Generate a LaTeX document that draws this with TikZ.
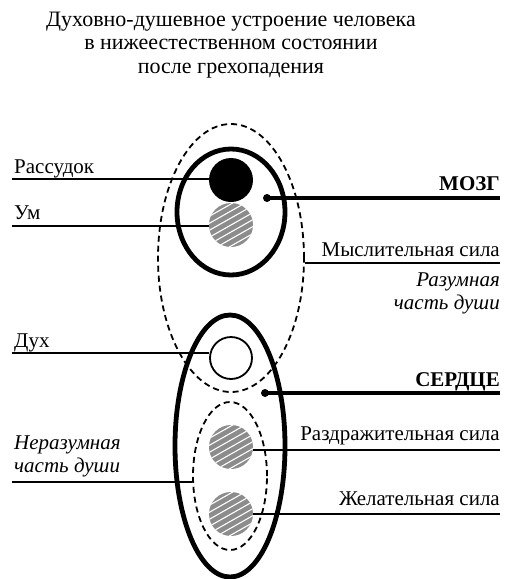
\documentclass[tikz,border=0pt]{standalone}
\usepackage{fontspec}
\setmainfont{Liberation Serif}
\usetikzlibrary{shapes.geometric,calc}
\definecolor{hatchgray}{RGB}{140,140,140}
\tikzset{
  lbl/.style={inner sep=0pt, font=\fontsize{21}{25}\selectfont},
  ttl/.style={inner sep=0pt, font=\fontsize{22}{26}\selectfont},
  leader/.style={line width=1.4pt},
  mainline/.style={line width=3.2pt},
  thickell/.style={ellipse, draw, line width=4.8pt, inner sep=0pt},
  dashell/.style={ellipse, draw, line width=1.8pt, dash pattern=on 6pt off 4pt, inner sep=0pt},
  blob/.style={circle, inner sep=0pt, minimum size=44pt},
  hatched/.style={blob, fill=hatchgray, path picture={
      \foreach \i in {-49,-42,...,49}
        \draw[white, line width=1.1pt]
          ([shift={(-30pt,\i pt-17pt)}]path picture bounding box.center) --
          ([shift={(30pt,\i pt+17pt)}]path picture bounding box.center);
    }},
  dotnode/.style={circle, fill, inner sep=0pt, minimum size=8pt}
}
\begin{document}
\begin{tikzpicture}[x=1pt,y=-1pt]
\useasboundingbox (0,0) rectangle (514,579);
% title
\node[ttl, anchor=base] (t1) at (231,26) {Духовно-душевное устроение человека};
\node[ttl, anchor=base] (t2) at (231,49) {в нижеестественном состоянии};
\node[ttl, anchor=base] (t3) at (231,73) {после грехопадения};
% ellipses
\node[dashell, minimum width=146pt, minimum height=268pt] (updash) at (231,258) {};
\node[thickell, minimum width=108pt, minimum height=126pt] (brain) at (231,212) {};
\node[thickell, minimum width=110pt, minimum height=262pt] (heart) at (230,446) {};
\node[dashell, minimum width=74pt, minimum height=148pt] (indash) at (230,476) {};
% circles
\node[blob, fill=black] (rass) at (231,180) {};
\node[hatched] (um) at (231,225) {};
\node[blob, draw, line width=1.8pt, minimum size=42pt, fill=white] (duh) at (231,358) {};
\node[hatched] (razd) at (231,447) {};
\node[hatched] (zhel) at (231,514) {};
% dots
\node[dotnode] (bdot) at (267,198) {};
\node[dotnode] (hdot) at (265,393) {};
% end coordinates
\coordinate (rassL) at (12,179);
\coordinate (umL) at (12,226);
\coordinate (duhL) at (12,353);
\coordinate (nerL) at (12,482);
\coordinate (bR) at (500,198);
\coordinate (hR) at (500,393);
\coordinate (mysR) at (500,263);
\coordinate (razdR) at (500,450);
\coordinate (zhelR) at (500,514);
% connectors
\draw[leader] (rassL) -- (rass.west |- rassL);
\draw[leader] (umL) -- (um.west |- umL);
\draw[leader] (duhL) -- (duh.west |- duhL) ;
\draw[leader] (nerL) -- (indash.189 |- nerL);
\draw[leader] (updash.352 |- mysR) -- (mysR);
\draw[leader] (razd.east |- razdR) -- (razdR);
\draw[leader] (zhel.east) -- (zhelR);
\draw[mainline] (bdot.center) -- (bR);
\draw[mainline] (hdot.center) -- (hR);
% labels
\node[lbl, anchor=base west] (lrass) at (14,173) {Рассудок};
\node[lbl, anchor=base west] (lum) at (14,219) {Ум};
\node[lbl, anchor=base west] (lduh) at (14,347) {Дух};
\node[lbl, anchor=base west] (lner1) at (14,449) {\itshape Неразумная};
\node[lbl, anchor=base west] (lner2) at (14,472) {\itshape часть души};
\node[lbl, anchor=base east] (lmozg) at (500,190) {\bfseries МОЗГ};
\node[lbl, anchor=base east] (lmys) at (500,256) {Мыслительная сила};
\node[lbl, anchor=base east] (lraz1) at (500,286) {\itshape Разумная};
\node[lbl, anchor=base east] (lraz2) at (500,309) {\itshape часть души};
\node[lbl, anchor=base east] (lserd) at (500,386) {\bfseries СЕРДЦЕ};
\node[lbl, anchor=base east] (lrazd) at (500,440) {Раздражительная сила};
\node[lbl, anchor=base east] (lzhel) at (500,505) {Желательная сила};
\end{tikzpicture}
\end{document}
